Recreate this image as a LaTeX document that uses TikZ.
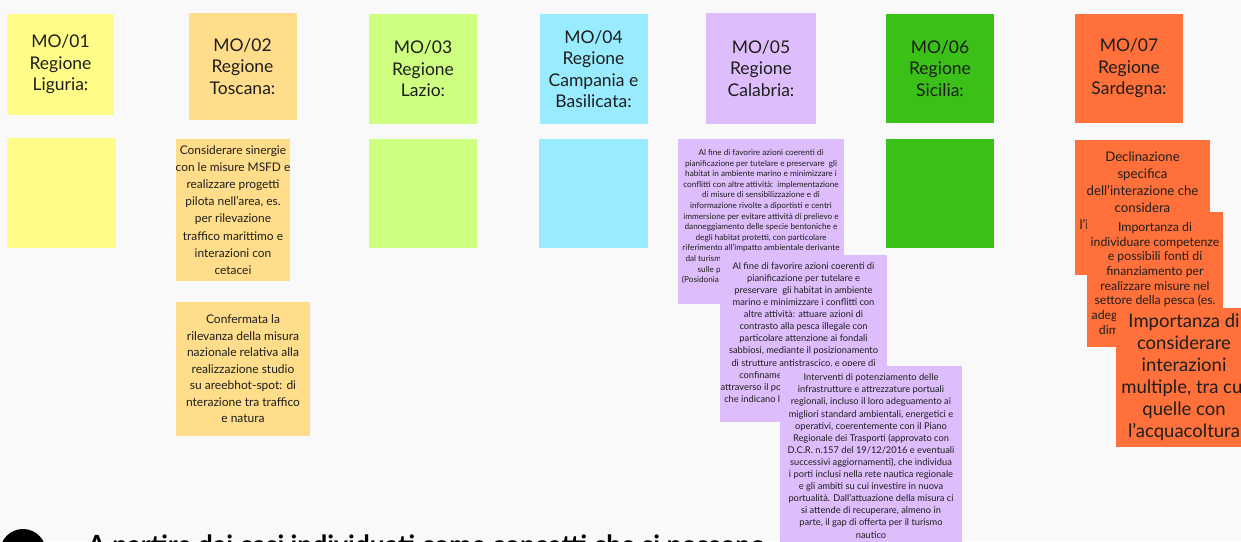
\documentclass[tikz,border=0pt]{standalone}
\usepackage{fontspec}
\setmainfont{Lato}
\usepackage{xcolor}
\usepackage{tikz}
\usetikzlibrary{positioning}
\definecolor{boardgray}{RGB}{249,249,249}
\definecolor{inkdark}{RGB}{30,30,30}
\definecolor{stickyyellow}{RGB}{255,252,135}
\definecolor{stickysand}{RGB}{255,221,138}
\definecolor{stickylime}{RGB}{206,255,128}
\definecolor{stickycyan}{RGB}{153,236,255}
\definecolor{stickylilac}{RGB}{222,189,252}
\definecolor{stickygreen}{RGB}{58,192,22}
\definecolor{stickyred}{RGB}{255,112,58}
\tikzset{
  note/.style={rectangle, inner sep=0pt, align=center, text=inkdark},
  titlenote/.style={note, minimum width=108pt, minimum height=109pt,
    font=\fontsize{17.5}{21.5}\selectfont},
  sandnote/.style={note, fill=stickysand, font=\fontsize{11.9}{17.2}\selectfont},
  lilacnote/.style={note, fill=stickylilac, font=\fontsize{9.3}{12.1}\selectfont},
  rednote/.style={note, fill=stickyred, font=\fontsize{13.2}{17}\selectfont}
}
\begin{document}
\begin{tikzpicture}[x=1pt, y=-1pt]
  \clip (0,0) rectangle (1241,541);
  \fill [boardgray] (0,0) rectangle (1241,541);

  % regioni
  \node [titlenote, fill=stickyyellow, minimum width=107pt, minimum height=101pt] (liguria) at (60.5,64.5) {MO/01\\Regione\\Liguria:};
  \node [titlenote, fill=stickysand, minimum height=107pt] (toscana) at (242.5,66.5) {MO/02\\Regione\\Toscana:};
  \node [titlenote, fill=stickylime, minimum height=110pt] (lazio) at (423,69) {MO/03\\Regione\\Lazio:};
  \node [titlenote, fill=stickycyan, minimum height=110pt] (campania) at (593.5,69) {MO/04\\Regione\\Campania e\\Basilicata:};
  \node [titlenote, fill=stickylilac, minimum width=110pt, minimum height=111pt] (calabria) at (761,68.5) {MO/05\\Regione\\Calabria:};
  \node [titlenote, fill=stickygreen] (sicilia) at (940,68.5) {MO/06\\Regione\\Sicilia:};
  \node [titlenote, fill=stickyred] (sardegna) at (1129,68.5) {MO/07\\Regione\\Sardegna:};

  % misure
  \node [note, fill=stickyyellow, minimum width=109pt, minimum height=110pt] (liguriaA) at (61.5,193) {};
  \node [sandnote, minimum width=114pt, minimum height=142pt] (toscanaA) at (233,210)
    {Considerare sinergie\\con le misure MSFD e\\realizzare progetti\\pilota nell'area, es.\\per rilevazione\\traffico marittimo e\\interazioni con\\cetacei};
  \node [sandnote, font=\fontsize{12}{16.5}\selectfont, minimum width=134pt, minimum height=134pt] (toscanaB) at (243,369)
    {Confermata la\\rilevanza della misura\\nazionale relativa alla\\realizzazione studio\\su areebhot-spot: di\\nterazione tra traffico\\e natura};
  \node [note, fill=stickylime, minimum width=108pt, minimum height=109pt] (lazioA) at (423,193.5) {};
  \node [note, fill=stickycyan, minimum width=109pt, minimum height=109pt] (campaniaA) at (593.5,193.5) {};

  \node [lilacnote, font=\fontsize{8.2}{10.6}\selectfont, minimum width=166pt, minimum height=165pt] (calabriaA) at (761,221.5)
    {Al fine di favorire azioni coerenti di\\pianificazione per tutelare e preservare\ \ gli\\habitat in ambiente marino e minimizzare i\\conflitti con altre attività:\ \ implementazione\\di misure di sensibilizzazione e di\\informazione rivolte a diportisti e centri\\immersione per evitare attività di prelievo e\\danneggiamento delle specie bentoniche e\\degli habitat protetti, con particolare\\riferimento all'impatto ambientale derivante\\dal turismo nautico e dagli ancoraggi liberi\\sulle praterie di fanerogame marine\\(Posidonia oceanica e Cymodocea nodosa) e\\dei fondali.};
  \node [lilacnote, minimum width=167pt, minimum height=167pt] (calabriaB) at (803.5,338.5)
    {Al fine di favorire azioni coerenti di\\pianificazione per tutelare e\\preservare\ \ gli habitat in ambiente\\marino e minimizzare i conflitti con\\altre attività: attuare azioni di\\contrasto alla pesca illegale con\\particolare attenzione ai fondali\\sabbiosi, mediante il posizionamento\\di strutture antistrascico, e opere di\\confinamento delle aree marine\\attraverso il posizionamento di boe gialle\\che indicano le aree di tutela e i relativi\\divieti.};
  \node [lilacnote, minimum width=182pt, minimum height=180pt] (calabriaC) at (871,456)
    {Interventi di potenziamento delle\\infrastrutture e attrezzature portuali\\regionali, incluso il loro adeguamento ai\\migliori standard ambientali, energetici e\\operativi, coerentemente con il Piano\\Regionale dei Trasporti (approvato con\\D.C.R. n.157 del 19/12/2016 e eventuali\\successivi aggiornamenti), che individua\\i porti inclusi nella rete nautica regionale\\e gli ambiti su cui investire in nuova\\portualità. Dall'attuazione della misura ci\\si attende di recuperare, almeno in\\parte, il gap di offerta per il turismo\\nautico};

  \node [note, fill=stickygreen, minimum width=108pt, minimum height=109pt] (siciliaA) at (940,193.5) {};

  \node [rednote, minimum width=135pt, minimum height=135pt] (sardegnaA) at (1142.5,207.5)
    {Declinazione\\specifica\\dell'interazione che\\considera\\l'interazione tra pesca\\professionale e\\cetacei};
  \node [rednote, font=\fontsize{12.3}{14.7}\selectfont, minimum width=136pt, minimum height=135pt] (sardegnaB) at (1155,279.5)
    {Importanza di\\individuare competenze\\e possibili fonti di\\finanziamento per\\realizzare misure nel\\settore della pesca (es.\\adeguamento delle reti,\\dimensioni di maglia)};
  \node [rednote, font=\fontsize{18.5}{22}\selectfont, minimum width=136pt, minimum height=139pt] (sardegnaC) at (1184,377)
    {Importanza di\\considerare\\interazioni\\multiple, tra cui\\quelle con\\l'acquacoltura};

  % passo successivo
  \node [circle, fill=black, minimum size=46pt, inner sep=0pt, text=white, font=\fontsize{24}{24}\selectfont\bfseries] (numero) at (23,552) {2};
  \node [anchor=base west, font=\fontsize{26.5}{30}\selectfont\bfseries] (passo) at (84,554) {A partire dai casi individuati come concetti che si possono};
\end{tikzpicture}
\end{document}
